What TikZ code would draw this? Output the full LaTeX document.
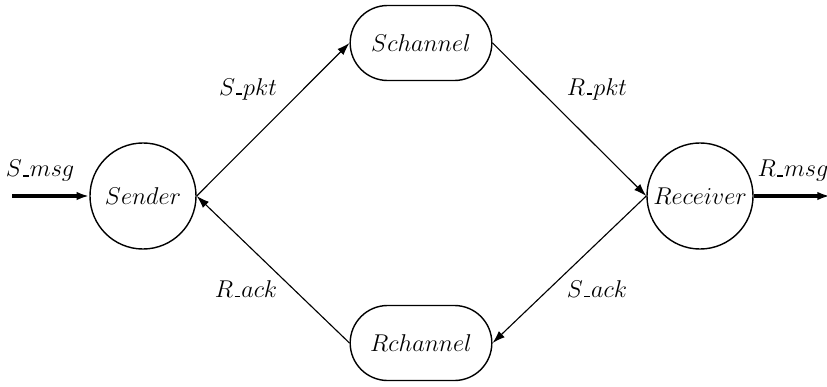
\documentclass[tikz,border=0pt]{standalone}
\usetikzlibrary{shapes, shapes.misc, arrows.meta, positioning}

\newcommand{\lowbar}{\kern1pt\rule{3.8pt}{1.3pt}\kern1pt}

\begin{document}
\begin{tikzpicture}[
  x=0.025cm, y=-0.025cm,
  proc/.style={circle, draw, line width=1pt, minimum size=2.65cm, inner sep=0pt},
  chan/.style={rounded rectangle, draw, line width=1pt, minimum width=3.775cm, minimum height=1.875cm},
  >={Latex[length=9pt,width=6pt]}, font=\fontsize{16}{19}\selectfont]

  \useasboundingbox (0,0) rectangle (827,387);
  \node[proc] (sender) at (143,196) {$Sender$};
  \node[proc] (receiver) at (700,196) {$Receiver$};
  \node[chan] (schan) at (421,43) {$Schannel$};
  \node[chan] (rchan) at (421,343) {$Rchannel$};
  \coordinate (in) at (12,196);
  \coordinate (out) at (830,196);

  % labels
  \node (smsg) at (40,171) {$S\lowbar msg$};
  \node (rmsg) at (793,171) {$R\lowbar msg$};
  \node (spkt) at (248,89) {$S\lowbar pkt$};
  \node (rpkt) at (597,89) {$R\lowbar pkt$};
  \node (rack) at (246,289) {$R\lowbar ack$};
  \node (sack) at (597,289) {$S\lowbar ack$};

  \path[->, line width=0.8pt]
    (sender.east) edge (schan.west)
    (schan.east) edge (receiver.west)
    (receiver.west) edge (rchan.east)
    (rchan.west) edge (sender.east);
  \draw[->, line width=2.5pt] (in) -- (sender.west);
  \draw[->, line width=2.5pt] (receiver.east) -- (out);
\end{tikzpicture}
\end{document}
